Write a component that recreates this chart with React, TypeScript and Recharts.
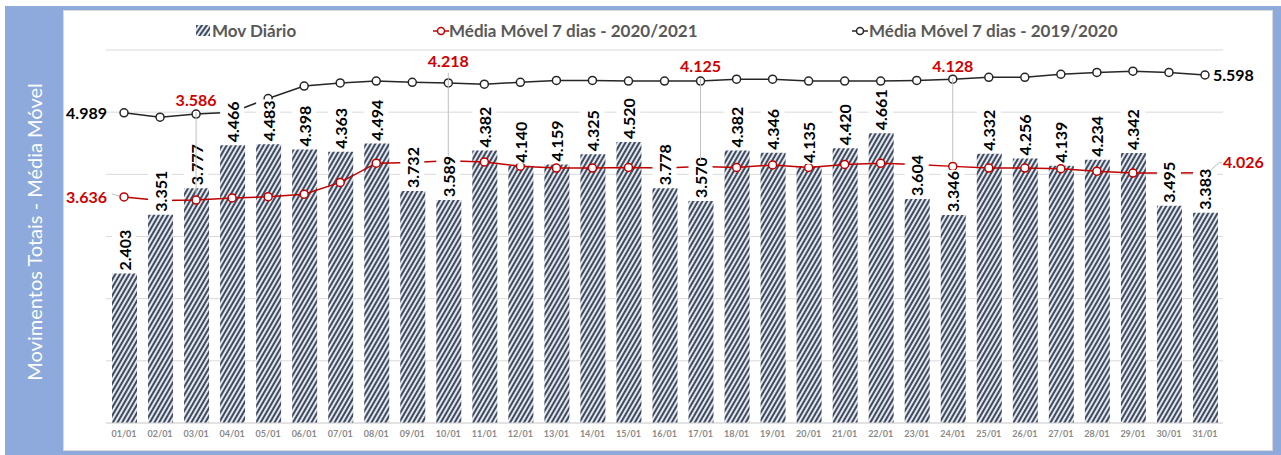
import React from "react";
import {
	Bar,
	CartesianGrid,
	ComposedChart,
	LabelList,
	Line,
	XAxis,
	YAxis,
} from "recharts";

const days = [
	"01/01", "02/01", "03/01", "04/01", "05/01", "06/01", "07/01", "08/01",
	"09/01", "10/01", "11/01", "12/01", "13/01", "14/01", "15/01", "16/01",
	"17/01", "18/01", "19/01", "20/01", "21/01", "22/01", "23/01", "24/01",
	"25/01", "26/01", "27/01", "28/01", "29/01", "30/01", "31/01",
];

const movDiario = [
	2403, 3351, 3777, 4466, 4483, 4398, 4363, 4494, 3732, 3589, 4382, 4140,
	4159, 4325, 4520, 3778, 3570, 4382, 4346, 4135, 4420, 4661, 3604, 3346,
	4332, 4256, 4139, 4234, 4342, 3495, 3383,
];

const media2021 = [
	3636, 3580, 3586, 3620, 3640, 3680, 3870, 4180, 4190, 4218, 4200, 4130,
	4100, 4100, 4110, 4100, 4125, 4110, 4150, 4110, 4160, 4180, 4160, 4128,
	4100, 4100, 4090, 4050, 4020, 4020, 4026,
];

const media1920 = [
	4989, 4920, 4970, 5000, 5220, 5420, 5470, 5500, 5480, 5470, 5450, 5480,
	5510, 5510, 5500, 5500, 5500, 5530, 5530, 5500, 5500, 5500, 5510, 5530,
	5560, 5560, 5610, 5640, 5660, 5640, 5598,
];

// dias em que o rótulo da média 2020/2021 sobe com linha de chamada
const redCallouts = ["03/01", "10/01", "17/01", "24/01"];

const yTicks = [0, 1000, 2000, 3000, 4000, 5000, 6000];

const seriesNames = {
	mov: "Mov Diário",
	m2021: "Média Móvel 7 dias - 2020/2021",
	m1920: "Média Móvel 7 dias - 2019/2020",
};

const data = days.map((day, i) => ({
	day,
	mov: movDiario[i],
	m2021: media2021[i],
	m1920: media1920[i],
}));

const RED = "#C00000";
const RED_TEXT = "#D00000";
const BLACK = "#262626";
const LEADER = "#BFBFBF";
const FONT = "Lato, 'Open Sans', sans-serif";

const fmt = (v: number) => (v / 1000).toFixed(3);

const BarValueLabel = (props: any) => {
	const { x, y, value } = props;
	if (x == null || y == null) return null;
	const bottom = y - 3;
	const len = 42;
	return (
		<g>
			<rect x={x - 12} y={bottom - len} width={24} height={len + 1} fill="#fff" />
			<text
				x={x}
				y={bottom}
				dx={0}
				dy={0}
				transform={`rotate(-90 ${x} ${bottom})`}
				textAnchor="start"
				dominantBaseline="central"
				fontFamily={FONT}
				fontWeight={700}
				fontSize={16}
				fill="#000"
			>
				{fmt(value)}
			</text>
		</g>
	);
};

const RedLabel = (props: any) => {
	const { x, y, value, index } = props;
	const day = days[index];
	const textProps = {
		fontFamily: FONT,
		fontWeight: 700,
		fontSize: 16,
		fill: RED_TEXT,
	};
	if (index === 0) {
		return (
			<g>
				<line x1={x - 12} y1={y - 3} x2={x - 5} y2={y - 1} stroke={LEADER} />
				<text x={x - 17} y={y} dy="0.36em" textAnchor="end" {...textProps}>
					{fmt(value)}
				</text>
			</g>
		);
	}
	if (index === days.length - 1) {
		return (
			<g>
				<polyline
					points={`${x + 6},${y - 3} ${x + 14},${y - 10} ${x + 17},${y - 10}`}
					fill="none"
					stroke={LEADER}
				/>
				<text x={x + 18} y={y - 10} dy="0.36em" textAnchor="start" {...textProps}>
					{fmt(value)}
				</text>
			</g>
		);
	}
	if (redCallouts.includes(day)) {
		return (
			<g>
				<line x1={x} y1={y - 88} x2={x} y2={y - 5} stroke={LEADER} />
				<text x={x} y={y - 100} dy="0.36em" textAnchor="middle" {...textProps}>
					{fmt(value)}
				</text>
			</g>
		);
	}
	return null;
};

const BlackLabel = (props: any) => {
	const { x, y, value, index } = props;
	const textProps = {
		fontFamily: FONT,
		fontWeight: 700,
		fontSize: 16,
		fill: "#000",
	};
	if (index === 0) {
		return (
			<text x={x - 17} y={y} dy="0.36em" textAnchor="end" {...textProps}>
				{fmt(value)}
			</text>
		);
	}
	if (index === days.length - 1) {
		return (
			<text x={x + 8} y={y} dy="0.36em" textAnchor="start" {...textProps}>
				{fmt(value)}
			</text>
		);
	}
	return null;
};

const legendText: React.CSSProperties = {
	position: "absolute",
	top: 20,
	fontFamily: FONT,
	fontWeight: 700,
	fontSize: 17,
	color: "#595959",
	lineHeight: "22px",
	whiteSpace: "nowrap",
};

const LineIcon = ({ color, left }: { color: string; left: number }) => (
	<svg
		width={16}
		height={10}
		style={{ position: "absolute", left, top: 26 }}
	>
		<line x1={0} y1={5} x2={16} y2={5} stroke={color} strokeWidth={1.5} />
		<circle cx={8} cy={5} r={3.5} fill="#fff" stroke={color} strokeWidth={1.5} />
	</svg>
);

export default function App() {
	return (
		<div
			style={{
				position: "relative",
				width: 1281,
				height: 455,
				overflow: "hidden",
				background: "#fff",
			}}
		>
			<style>{"body{margin:0}"}</style>
			<div
				style={{
					position: "absolute",
					left: 5,
					top: 6,
					width: 1276,
					height: 449,
					background: "#8EA9DB",
				}}
			/>
			<div
				style={{
					position: "absolute",
					left: 63,
					top: 10,
					width: 1208,
					height: 439,
					background: "#fff",
					border: "1px solid #D9D9D9",
				}}
			/>
			<div
				style={{
					position: "absolute",
					left: 34,
					top: 232,
					transform: "translate(-50%, -50%) rotate(-90deg)",
					fontFamily: FONT,
					fontSize: 20,
					color: "#fff",
					whiteSpace: "nowrap",
				}}
			>
				Movimentos Totais - Média Móvel
			</div>

			<svg
				width={14}
				height={11}
				style={{ position: "absolute", left: 196, top: 25 }}
			>
				<rect width={14} height={11} fill="url(#hatchLegend)" />
				<defs>
					<pattern
						id="hatchLegend"
						width="4"
						height="4"
						patternUnits="userSpaceOnUse"
						patternTransform="rotate(35)"
					>
						<rect width="4" height="4" fill="#e4e7ec" />
						<rect width="2" height="4" fill="#3f4b60" />
					</pattern>
				</defs>
			</svg>
			<div style={{ ...legendText, left: 212 }}>{seriesNames.mov}</div>
			<LineIcon color={RED} left={433} />
			<div style={{ ...legendText, left: 449 }}>{seriesNames.m2021}</div>
			<LineIcon color={BLACK} left={852} />
			<div style={{ ...legendText, left: 869 }}>{seriesNames.m1920}</div>

			<div style={{ position: "absolute", left: 0, top: 0 }}>
				<ComposedChart
					width={1281}
					height={455}
					data={data}
					margin={{ top: 50, right: 58, bottom: 7, left: 106 }}
				>
					<defs>
						<pattern
							id="hatch"
							width="4"
							height="4"
							patternUnits="userSpaceOnUse"
							patternTransform="rotate(30)"
						>
							<rect width="4" height="4" fill="#e4e7ec" />
							<rect width="2" height="4" fill="#3f4b60" />
						</pattern>
					</defs>
					<CartesianGrid stroke="#D9D9D9" vertical={false} />
					<XAxis
						dataKey="day"
						interval={0}
						height={25}
						tickLine={false}
						tickSize={0}
						tickMargin={8}
						axisLine={{ stroke: "#D9D9D9" }}
						tick={{ fontSize: 9, fill: "#8a8a8a", fontFamily: FONT, fontWeight: 700 }}
					/>
					<YAxis hide width={0} domain={[0, 6000]} ticks={yTicks} />
					<Bar
						dataKey="mov"
						name={seriesNames.mov}
						barSize={25}
						fill="url(#hatch)"
						isAnimationActive={false}
					/>
					<Line
						dataKey="m1920"
						name={seriesNames.m1920}
						stroke={BLACK}
						strokeWidth={1.5}
						dot={{ r: 4, fill: "#fff", stroke: BLACK, strokeWidth: 1.5 }}
						activeDot={false}
						isAnimationActive={false}
					/>
					<Line
						dataKey="m2021"
						name={seriesNames.m2021}
						stroke={RED}
						strokeWidth={1.5}
						dot={{ r: 4, fill: "#fff", stroke: RED, strokeWidth: 1.5 }}
						activeDot={false}
						isAnimationActive={false}
					/>
					<Line
						dataKey="mov"
						stroke="none"
						dot={false}
						activeDot={false}
						legendType="none"
						isAnimationActive={false}
					>
						<LabelList dataKey="mov" content={BarValueLabel} />
					</Line>
					<Line
						dataKey="m2021"
						stroke="none"
						dot={false}
						activeDot={false}
						legendType="none"
						isAnimationActive={false}
					>
						<LabelList dataKey="m2021" content={RedLabel} />
					</Line>
					<Line
						dataKey="m1920"
						stroke="none"
						dot={false}
						activeDot={false}
						legendType="none"
						isAnimationActive={false}
					>
						<LabelList dataKey="m1920" content={BlackLabel} />
					</Line>
				</ComposedChart>
			</div>
		</div>
	);
}
